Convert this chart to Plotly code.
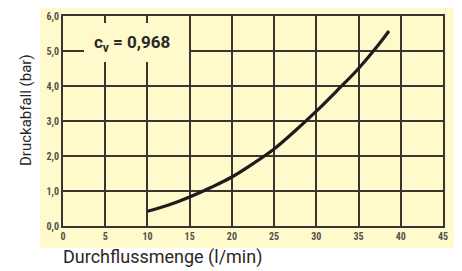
import plotly.graph_objects as go

flow = [10, 12.5, 15, 17.5, 20, 22.5, 25, 27.5, 30, 32.5, 35, 37.5, 38.6]
pressure = [0.42, 0.6, 0.83, 1.1, 1.4, 1.78, 2.2, 2.72, 3.28, 3.88, 4.5, 5.22, 5.57]

x_ticks = [0, 5, 10, 15, 20, 25, 30, 35, 40, 45]
x_labels = ["<b>0</b>", "<b>5</b>", "<b>10</b>", "<b>15</b>", "<b>20</b>",
            "<b>25</b>", "<b>30</b>", "<b>35</b>", "<b>40</b>", "<b>45</b>"]
y_ticks = [0, 1, 2, 3, 4, 5, 6]
y_labels = ["<b>0,0</b>", "<b>1,0</b>", "<b>2,0</b>", "<b>3,0</b>",
            "<b>4,0</b>", "<b>5,0</b>", "<b>6,0</b>"]

YELLOW = "#fefacb"
GRID = "#3a3530"
FONT = "Liberation Sans Narrow, Roboto Condensed, Arial Narrow, Roboto, sans-serif"
TFONT = "Roboto, Liberation Sans, sans-serif"

# page has an 8px body margin, so the figure starts at (8, 8)
OFF = 8
PAGE_W, PAGE_H = 462, 271
PL, PR, PT, PB = 63, 443, 16, 226  # plot area in page pixels
W, H = PAGE_W - OFF, PAGE_H - OFF
L, T = PL - OFF, PT - OFF
R = W - L - (PR - PL)
B = H - T - (PB - PT)


def px(x):
    return (x - PL) / (PR - PL)


def py(y):
    return (PB - y) / (PB - PT)


fig = go.Figure()
fig.add_trace(go.Scatter(x=flow, y=pressure, mode="lines",
                         line=dict(color="#1e1c1c", width=3.2, shape="spline"),
                         hoverinfo="skip"))

fig.update_layout(
    width=W, height=H,
    margin=dict(l=L, r=R, t=T, b=B, autoexpand=False),
    paper_bgcolor="white",
    plot_bgcolor=YELLOW,
    showlegend=False,
    xaxis=dict(range=[0, 45], tickvals=x_ticks, ticktext=x_labels,
               showgrid=True, gridcolor=GRID, gridwidth=1.5,
               showline=True, linecolor=GRID, linewidth=2, mirror=True,
               zeroline=False, ticks="", ticklen=0, automargin=False,
               tickfont=dict(family=FONT, size=10, color="#55504a")),
    yaxis=dict(range=[0, 6], tickvals=y_ticks, ticktext=y_labels,
               showgrid=True, gridcolor=GRID, gridwidth=1.5,
               showline=True, linecolor=GRID, linewidth=2, mirror=True,
               zeroline=False, ticks="", ticklen=0, automargin=False,
               tickfont=dict(family=FONT, size=10, color="#55504a")),
    shapes=[
        dict(type="rect", xref="paper", yref="paper", layer="below",
             x0=px(40), x1=px(455), y0=py(248), y1=py(5),
             fillcolor=YELLOW, line=dict(width=0)),
        dict(type="rect", xref="paper", yref="paper", layer="above",
             x0=px(84), x1=px(189), y0=py(62), y1=py(23),
             fillcolor=YELLOW, line=dict(width=0)),
    ],
    annotations=[
        dict(xref="paper", yref="paper", x=px(92), y=py(43), xanchor="left", yanchor="middle",
             text="<b>c<sub>v</sub> = 0,968</b>", showarrow=False,
             font=dict(family=TFONT, size=17, color="#2a2725")),
        dict(xref="paper", yref="paper", x=px(61), y=py(257), xanchor="left", yanchor="middle",
             text="Durchflussmenge (l/min)", showarrow=False,
             font=dict(family=TFONT, size=18, color="#2a2725")),
        dict(xref="paper", yref="paper", x=px(26), y=py(110), xanchor="center", yanchor="middle",
             text="Druckabfall (bar)", showarrow=False, textangle=-90,
             font=dict(family=TFONT, size=15, color="#2a2725")),
    ],
)

fig.write_html("out.html")
